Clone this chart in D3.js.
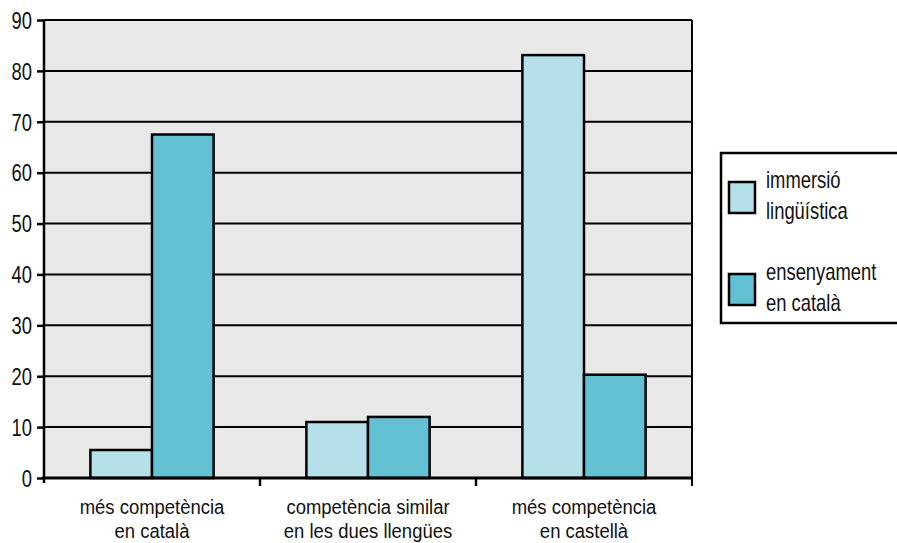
<!DOCTYPE html>
<html>
<head>
<meta charset="utf-8">
<script src="https://cdn.jsdelivr.net/npm/d3@7"></script>
<style>
  html, body { margin: 0; padding: 0; background: #ffffff; }
  svg { display: block; }
  text { font-family: "Liberation Sans", Arial, sans-serif; fill: #111; }
</style>
</head>
<body>
<svg id="chart" width="897" height="543"></svg>
<script>
// Categories (two-line labels) and series
const categories = ["més competència|en català", "competència similar|en les dues llengües", "més competència|en castellà"];
const seriesNames = ["immersió|lingüística", "ensenyament|en català"];
const immersio = [5.5, 11, 83.1];
const ensenyament = [67.5, 12, 20.3];
const yTicks = [0, 10, 20, 30, 40, 50, 60, 70, 80, 90];
const seriesColors = ["#b6e0e9", "#63c1d3"];

const FONT_SIZE = 23;
const NARROW = 0.8; // horizontal squeeze for a condensed look

const svg = d3.select("#chart");
const margin = { left: 44, top: 20, right: 205, bottom: 65 };
const W = 897, H = 543;
const plotW = W - margin.left - margin.right;
const plotH = H - margin.top - margin.bottom;

const g = svg.append("g").attr("transform", `translate(${margin.left},${margin.top})`);

const x0 = d3.scaleBand().domain(categories).range([0, plotW]).padding(0);
const x1 = d3.scaleBand().domain(seriesNames).range([0, x0.bandwidth()]).paddingInner(0).paddingOuter(0.753);
const y = d3.scaleLinear().domain([0, 90]).range([plotH, 0]);

// condensed text helper
function narrowText(sel, x, yPos, str, anchor, size, squeeze) {
  return sel.append("text")
    .attr("transform", `translate(${x},${yPos}) scale(${squeeze || NARROW},1)`)
    .attr("text-anchor", anchor || "start")
    .attr("font-size", size || FONT_SIZE)
    .text(str);
}

// plot background
g.append("rect").attr("x", 0).attr("y", 0).attr("width", plotW).attr("height", plotH).attr("fill", "#e8e8e8");

// horizontal gridlines
g.append("g").selectAll("line").data(yTicks.filter(d => d > 0)).join("line")
  .attr("x1", 0).attr("x2", plotW)
  .attr("y1", d => y(d)).attr("y2", d => y(d))
  .attr("stroke", "#000").attr("stroke-width", 2);

// right frame line
g.append("line").attr("x1", plotW).attr("x2", plotW).attr("y1", 0).attr("y2", plotH + 8)
  .attr("stroke", "#000").attr("stroke-width", 2);

// bars
const rows = categories.map((c, i) => ({ cat: c, vals: [immersio[i], ensenyament[i]] }));
const groups = g.append("g").selectAll("g").data(rows).join("g")
  .attr("transform", d => `translate(${x0(d.cat)},0)`);
groups.selectAll("rect").data(d => d.vals.map((v, j) => ({ s: seriesNames[j], v, j }))).join("rect")
  .attr("x", d => x1(d.s))
  .attr("width", x1.bandwidth())
  .attr("y", d => y(d.v))
  .attr("height", d => y(0) - y(d.v))
  .attr("fill", d => seriesColors[d.j])
  .attr("stroke", "#000").attr("stroke-width", 2.5);

// y axis
const yAxis = g.append("g").call(d3.axisLeft(y).tickValues(yTicks).tickSize(7).tickPadding(6).tickFormat(d3.format("d")));
yAxis.select(".domain").attr("stroke", "#000").attr("stroke-width", 2.5).attr("d", `M0,${plotH + 5}V0`);
yAxis.selectAll(".tick line").attr("stroke", "#000").attr("stroke-width", 2.5);
yAxis.selectAll(".tick text")
  .attr("x", null)
  .attr("font-size", FONT_SIZE)
  .attr("font-family", "Liberation Sans, Arial, sans-serif")
  .attr("fill", "#111")
  .attr("dy", "0.36em")
  .attr("transform", `translate(-12,0) scale(${NARROW},1)`);

// x axis baseline and category boundary ticks
g.append("line").attr("x1", -2).attr("x2", plotW + 1).attr("y1", plotH).attr("y2", plotH)
  .attr("stroke", "#000").attr("stroke-width", 3);
const boundaries = [1, 2].map(i => x0.step() * i);
g.append("g").selectAll("line").data(boundaries).join("line")
  .attr("x1", d => d).attr("x2", d => d).attr("y1", plotH).attr("y2", plotH + 8)
  .attr("stroke", "#000").attr("stroke-width", 2.5);

// category labels, one text per line
const catG = g.append("g");
categories.forEach(c => {
  const cx = x0(c) + x0.bandwidth() / 2;
  c.split("|").forEach((line, k) => narrowText(catG, cx, plotH + 36 + k * 24, line, "middle", 21, 0.88));
});

// legend
const lg = svg.append("g").attr("transform", "translate(721,153)");
lg.append("rect").attr("x", 0).attr("y", 0).attr("width", 190).attr("height", 170)
  .attr("fill", "#fff").attr("stroke", "#000").attr("stroke-width", 2.5);
seriesNames.forEach((s, i) => {
  const item = lg.append("g").attr("transform", `translate(0,${29 + i * 92})`);
  item.append("rect").attr("x", 8).attr("y", 0).attr("width", 26).attr("height", 31)
    .attr("fill", seriesColors[i]).attr("stroke", "#000").attr("stroke-width", 2.5);
  s.split("|").forEach((line, k) => narrowText(item, 45, 6 + k * 31, line, "start"));
});
</script>
</body>
</html>
